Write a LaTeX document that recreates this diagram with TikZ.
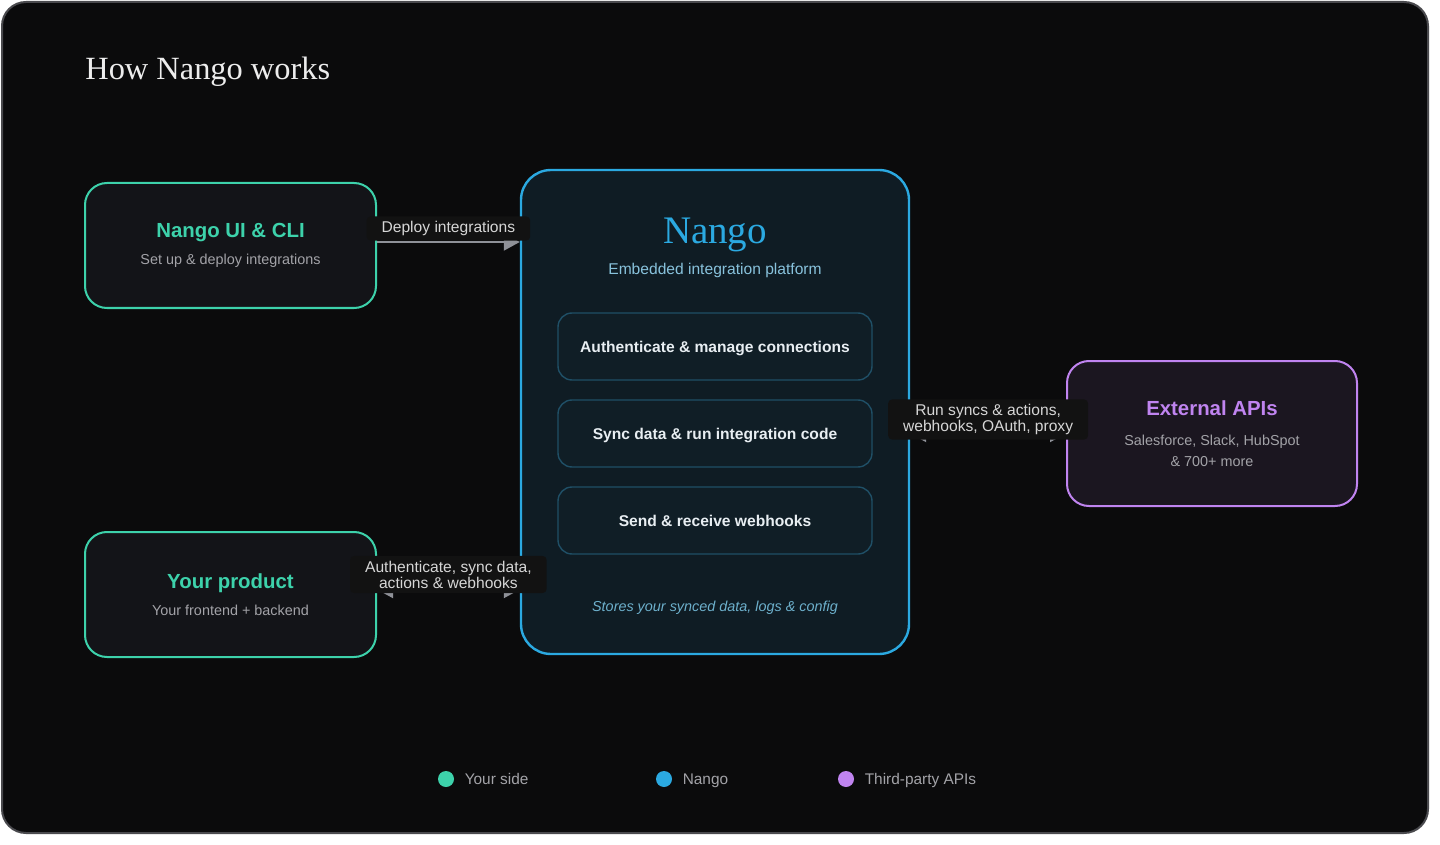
\documentclass[tikz,border=0pt]{standalone}
\usepackage{fontspec}
\setmainfont{Liberation Serif}
\setsansfont{Liberation Sans}
\usepackage{tikz}
\usetikzlibrary{arrows.meta, positioning}
\definecolor{framebg}{HTML}{0B0B0C}
\definecolor{frameline}{HTML}{4A4A4E}
\definecolor{yourteal}{HTML}{3DD2AB}
\definecolor{nangoblue}{HTML}{2BA9E1}
\definecolor{apipurple}{HTML}{C084F0}
\definecolor{sidefill}{HTML}{131418}
\definecolor{nangofill}{HTML}{0F1C24}
\definecolor{innerfill}{HTML}{101E26}
\definecolor{innerline}{HTML}{1F4F66}
\definecolor{apifill}{HTML}{1B1620}
\definecolor{lblfill}{HTML}{121212}
\definecolor{arrowgray}{HTML}{8F9198}
\definecolor{subgray}{HTML}{A3A3A8}
\definecolor{lbltext}{HTML}{D6D6D6}
\definecolor{nangosub}{HTML}{88C2DC}
\definecolor{storeblue}{HTML}{6DB0CC}
\definecolor{innertext}{HTML}{E8EEF2}
\definecolor{titlegray}{HTML}{EDEDED}

\begin{document}
\begin{tikzpicture}[
    x=0.5pt, y=-0.5pt,
    font=\sffamily,
    sidebox/.style={draw=yourteal, line width=1pt, fill=sidefill, rounded corners=11pt, minimum width=145.5pt, minimum height=62.5pt, align=center, text=subgray, font=\sffamily\fontsize{7.2}{10.5}\selectfont},
    apibox/.style={sidebox, draw=apipurple, fill=apifill, minimum width=145pt, minimum height=72.5pt},
    nangobox/.style={draw=nangoblue, line width=1.2pt, fill=nangofill, rounded corners=15pt, minimum width=194pt, minimum height=242pt},
    innerbox/.style={draw=innerline, line width=0.7pt, fill=innerfill, rounded corners=7pt, minimum width=157pt, minimum height=33.5pt, outer sep=0pt, text height=7.6pt, text depth=2pt, text=innertext, font=\sffamily\bfseries\fontsize{7.8}{9}\selectfont},
    flow/.style={draw=arrowgray, line width=1pt},
    lbl/.style={fill=lblfill, rounded corners=2pt, inner xsep=7.5pt, inner ysep=2.4pt, align=center, text=lbltext, font=\sffamily\fontsize{7.8}{8}\selectfont},
    dot/.style={circle, inner sep=0pt, minimum size=8pt},
    legtxt/.style={inner sep=0pt, text height=5.6pt, text depth=0pt, text=subgray, font=\sffamily\fontsize{7.7}{9}\selectfont}
]
    % Cornice e sfondo
    \fill[white] (0,0) rectangle (1440,845);
    \draw[frameline, fill=framebg, line width=1pt, rounded corners=12pt] (2,2) rectangle (1428,833);
    \node[anchor=base west, inner sep=0pt, text=titlegray, font=\rmfamily\fontsize{16.2}{19}\selectfont] (title) at (85,80) {How Nango works};

    % Lato cliente
    \node[sidebox] (cli) at (230.5,245.5) {{\fontsize{10.2}{12}\selectfont\bfseries\color{yourteal}Nango UI \& CLI}\\[3pt]Set up \& deploy integrations};
    \node[sidebox] (product) at (230.5,594.5) {{\fontsize{10.2}{12}\selectfont\bfseries\color{yourteal}Your product}\\[3pt]Your frontend + backend};

    % Piattaforma Nango
    \node[nangobox] (nango) at (715,412) {};
    \node[anchor=base, text=nangoblue, font=\rmfamily\fontsize{19.5}{22}\selectfont] (nangoname) at (715,244) {Nango};
    \node[anchor=base, text=nangosub, font=\sffamily\fontsize{7.8}{9}\selectfont] (nangotag) at (715,275) {Embedded integration platform};
    \node[innerbox] (auth) at (715,346.5) {Authenticate \& manage connections};
    \node[innerbox, below=10pt of auth] (sync) {Sync data \& run integration code};
    \node[innerbox, below=10pt of sync] (hooks) {Send \& receive webhooks};
    \node[anchor=base, text=storeblue, font=\sffamily\itshape\fontsize{7.2}{9}\selectfont] (store) at (715,611) {Stores your synced data, logs \& config};

    % API di terze parti
    \node[apibox] (apis) at (1212,433.5) {{\fontsize{10.2}{12}\selectfont\bfseries\color{apipurple}External APIs}\\[4.5pt]Salesforce, Slack, HubSpot\\\& 700+ more};

    % Collegamenti
    \draw[flow, -{Triangle[length=8pt, width=8.5pt]}] ([yshift=1.75pt]cli.east) -- ([yshift=1.75pt]cli.east -| nango.west) node[lbl, midway, yshift=6.75pt] {Deploy integrations};
    \draw[flow, {Triangle[length=8pt, width=8.5pt]}-{Triangle[length=8pt, width=8.5pt]}] ([yshift=2.5pt]product.east) -- ([yshift=2.5pt]product.east -| nango.west) node[lbl, midway, yshift=7.5pt] {Authenticate, sync data,\\actions \& webhooks};
    \draw[flow, {Triangle[length=8pt, width=8.5pt]}-{Triangle[length=8pt, width=8.5pt]}] (nango.east |- apis.west) -- (apis.west) node[lbl, midway, yshift=7pt] {Run syncs \& actions,\\webhooks, OAuth, proxy};

    % Legenda
    \node[dot, fill=yourteal] (dotyour) at (446,779) {};
    \node[legtxt, right=5pt of dotyour] (legyour) {Your side};
    \node[dot, fill=nangoblue] (dotnango) at (664,779) {};
    \node[legtxt, right=5pt of dotnango] (legnango) {Nango};
    \node[dot, fill=apipurple] (dotapi) at (846,779) {};
    \node[legtxt, right=5pt of dotapi] (legapi) {Third-party APIs};
\end{tikzpicture}
\end{document}
